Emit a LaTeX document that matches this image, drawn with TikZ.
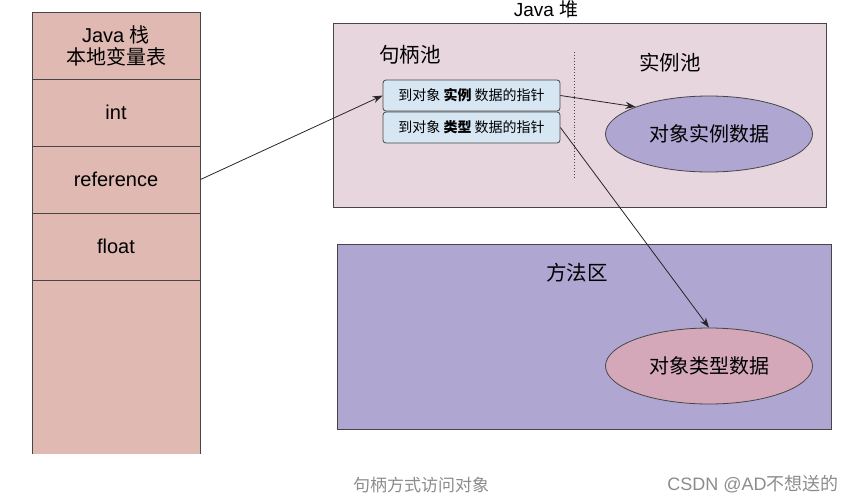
\documentclass[tikz,border=0pt]{standalone}
\usepackage{fontspec}
\setmainfont{Liberation Sans}
\newfontfamily\cjk{Noto Sans CJK SC}
\usepackage{xcolor}
\usepackage{tikz}
\usetikzlibrary{positioning,shapes.geometric,arrows.meta}
\definecolor{stackpink}{RGB}{223,185,178}
\definecolor{heappink}{RGB}{232,214,222}
\definecolor{handleblue}{RGB}{214,230,242}
\definecolor{areapurple}{RGB}{175,166,210}
\definecolor{typepink}{RGB}{212,168,184}
\definecolor{edgegray}{RGB}{70,70,70}
\definecolor{captiongray}{RGB}{140,140,140}

\begin{document}
\begin{tikzpicture}[x=1pt, y=-1pt,
    cell/.style={draw=edgegray,line width=1pt,fill=stackpink,minimum width=168pt,minimum height=67pt,inner sep=0pt,align=center,font=\fontsize{20}{23}\selectfont},
    region/.style={draw=edgegray,line width=0.8pt,anchor=north west,inner sep=0pt},
    handle/.style={draw=edgegray,line width=0.8pt,fill=handleblue,rounded corners=3pt,minimum width=177pt,minimum height=31pt,inner sep=0pt,font=\fontsize{14}{16}\selectfont\cjk},
    blob/.style={ellipse,draw=edgegray,line width=0.8pt,minimum width=207pt,minimum height=76pt,inner sep=0pt,font=\fontsize{20}{22}\selectfont\cjk},
    label/.style={font=\fontsize{20.5}{23}\selectfont\cjk},
    ptr/.style={-{Stealth[length=10pt,width=7pt]},line width=0.8pt,black!85}]
  \useasboundingbox (0,0) rectangle (864,501);
  % Java stack
  \fill[stackpink] (32,280) rectangle (200,454);
  \draw[edgegray,line width=1pt] (32,280) -- (32,454) (200,280) -- (200,454);
  \node[cell] (stack) at (116,45.5) {Java {\cjk 栈}\\[-1pt]{\cjk 本地变量表}};
  \node[cell] (int) at (116,112.5) {int};
  \node[cell] (ref) at (116,179.5) {reference};
  \node[cell] (float) at (116,246.5) {float};
  % heap
  \node[region,fill=heappink,minimum width=493pt,minimum height=184pt] (heap) at (333,23) {};
  \node[font=\fontsize{19}{21}\selectfont,inner sep=0pt] (heaplbl) at (546,9) {Java {\cjk 堆}};
  \node[label] (handlepool) at (410,55) {句柄池};
  \node[label] (instpool) at (670,63) {实例池};
  \coordinate (sepTop) at (574,52);
  \coordinate (sepBot) at (574,177);
  \draw[dotted,edgegray,line width=0.9pt] (sepTop) -- (sepBot);
  \node[handle] (toinst) at (471.5,95.5) {到对象 \textbf{实例} 数据的指针};
  \node[handle] (totype) at (471.5,127.5) {到对象 \textbf{类型} 数据的指针};
  \node[blob,fill=areapurple] (instdata) at (709,134) {对象实例数据};
  % method area
  \node[region,fill=areapurple,minimum width=494pt,minimum height=185pt] (method) at (337,244) {};
  \node[label] (methodlbl) at (577,273) {方法区};
  \node[blob,fill=typepink] (typedata) at (709,366) {对象类型数据};
  % pointers
  \draw[ptr] (ref.east) -- (toinst.west);
  \draw[ptr] (toinst.east) -- (instdata.north west);
  \draw[ptr] (totype.east) -- (typedata.north);
  % caption
  \node[font=\fontsize{17}{19}\selectfont\cjk,text=captiongray] (caption) at (421,485) {句柄方式访问对象};
  \node[font=\fontsize{18}{20}\selectfont,text=captiongray] (mark) at (753,484) {CSDN @AD{\cjk 不想送的}};
\end{tikzpicture}
\end{document}
